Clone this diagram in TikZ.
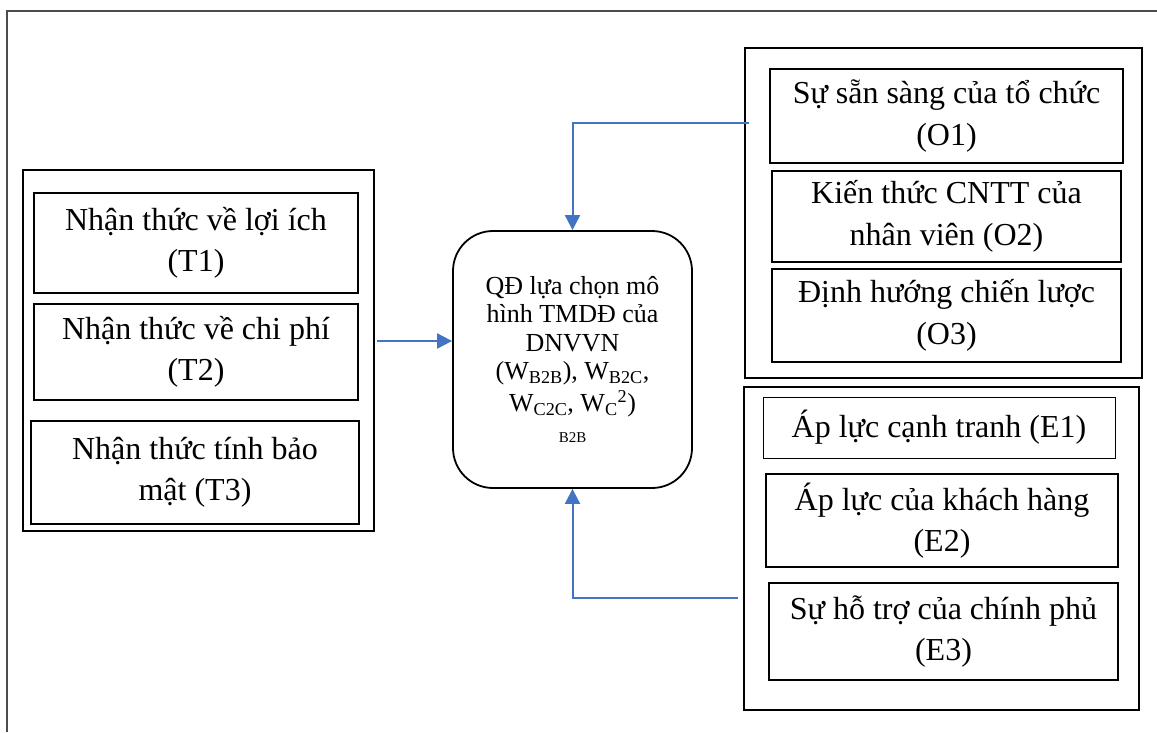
\documentclass[tikz,border=0pt]{standalone}
\usepackage{fontspec}
\setmainfont{Liberation Serif}
\usetikzlibrary{arrows.meta}
\definecolor{arrblue}{HTML}{4472C4}
\begin{document}
\begin{tikzpicture}[x=1pt,y=-1pt,
  frameline/.style={draw=black!70,line width=2pt},
  fbox/.style={draw=black,line width=1.5pt,align=center,inner sep=0pt,
    font=\fontsize{32}{41.5}\selectfont},
  center/.style={draw=black,line width=1.8pt,rounded corners=40pt,align=center,inner sep=0pt,
    font=\fontsize{26}{28.5}\selectfont},
  arr/.style={draw=arrblue,line width=2pt,-{Triangle[length=15pt,width=15pt]}}
]
\useasboundingbox (0,0) rectangle (1157,732);
\draw[frameline] (7,732) -- (7,11) -- (1157,11);

% left group
\node[draw=black,line width=1.5pt,minimum width=351pt,minimum height=361pt] (Lgrp) at (198.5,350.5) {};
\node[fbox,minimum width=324pt,minimum height=100pt] (T1) at (196,243) {Nhận thức về lợi ích\\(T1)};
\node[fbox,minimum width=324pt,minimum height=96pt] (T2) at (196,352) {Nhận thức về chi phí\\(T2)};
\node[fbox,minimum width=328pt,minimum height=103pt] (T3) at (195,472.5) {Nhận thức tính bảo\\mật (T3)};

% right top group
\node[draw=black,line width=1.5pt,minimum width=397pt,minimum height=330pt] (Ogrp) at (943.5,213) {};
\node[fbox,minimum width=353pt,minimum height=94pt] (O1) at (946.5,116) {Sự sẵn sàng của tổ chức\\(O1)};
\node[fbox,minimum width=349pt,minimum height=91pt] (O2) at (946.5,216.5) {Kiến thức CNTT của\\nhân viên (O2)};
\node[fbox,minimum width=349pt,minimum height=93pt] (O3) at (946.5,315.5) {Định hướng chiến lược\\(O3)};

% right bottom group
\node[draw=black,line width=1.5pt,minimum width=395pt,minimum height=323pt] (Egrp) at (941.5,548.5) {};
\node[fbox,line width=1pt,minimum width=352pt,minimum height=61pt] (E1) at (939,427.5) {Áp lực cạnh tranh (E1)};
\node[fbox,minimum width=352pt,minimum height=93pt] (E2) at (942,520.5) {Áp lực của khách hàng\\(E2)};
\node[fbox,minimum width=349pt,minimum height=97pt] (E3) at (943.5,631.5) {Sự hỗ trợ của chính phủ\\(E3)};

% center
\node[center,minimum width=239pt,minimum height=257pt] (C) at (572.5,359.5)
  {QĐ lựa chọn mô\\hình TMDĐ của\\DNVVN\\(W\textsubscript{B2B}), W\textsubscript{B2C},\\[3pt]W\textsubscript{C2C}, W\textsubscript{C}\textsuperscript{2})\\[3pt]{\fontsize{15}{18}\selectfont B2B}};

% connectors
\coordinate (a1) at (377,341);
\coordinate (a2) at (749,123);
\coordinate (a3) at (738,598);
\draw[arr] (a1) -- (a1 -| C.west);
\draw[arr] (a2) -| (C.north);
\draw[arr] (a3) -| (C.south);
\end{tikzpicture}
\end{document}
